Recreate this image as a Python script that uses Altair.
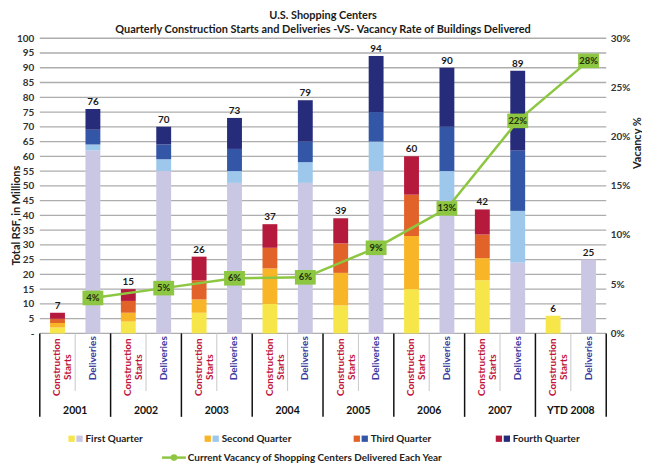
import altair as alt
import pandas as pd

# ---------------- data ----------------
years = ["2001", "2002", "2003", "2004", "2005", "2006", "2007", "YTD 2008"]
starts_q1 = [2, 4, 7, 10, 9.5, 15, 18, 6]
starts_q2 = [1.5, 3, 4.5, 12, 11, 18, 7.5, 0]
starts_q3 = [1.5, 4, 6.5, 7, 10, 14, 8, 0]
starts_q4 = [2, 4, 8, 8, 8.5, 13, 8.5, 0]
deliv_q1 = [62, 55, 51, 51, 55, 45, 24, 25]
deliv_q2 = [2, 4, 4, 7, 10, 10, 17.5, 0]
deliv_q3 = [5, 5, 7.5, 7, 10, 15, 20.5, 0]
deliv_q4 = [7, 6, 10.5, 14, 19, 20, 27, 0]
vacancy = [0.036, 0.046, 0.056, 0.057, 0.087, 0.127, 0.216, 0.277]
quarter_names = ["First Quarter", "Second Quarter", "Third Quarter", "Fourth Quarter"]
left_ticks = list(range(0, 101, 5))
right_ticks = [0, 0.05, 0.10, 0.15, 0.20, 0.25, 0.30]
starts_label = "Construction\nStarts"
deliv_label = "Deliveries"
line_legend_label = "Current Vacancy of Shopping Centers Delivered Each Year"

# ---------------- styles ----------------
starts_colors = ["#F7E64A", "#F8B527", "#E2632A", "#B5193C"]
deliv_colors = ["#C9C7E3", "#9DC8EB", "#3456A6", "#262B7A"]
green = "#8DC641"
FONT = "Lato"

cat_order = [f"{y}|{t}" for y in years for t in ("S", "D")]
starts_q = [starts_q1, starts_q2, starts_q3, starts_q4]
deliv_q = [deliv_q1, deliv_q2, deliv_q3, deliv_q4]

rows = []
for i, y in enumerate(years):
    for q in range(4):
        rows.append({"cat": f"{y}|S", "q": q + 1, "key": f"S{q+1}", "value": starts_q[q][i]})
        rows.append({"cat": f"{y}|D", "q": q + 1, "key": f"D{q+1}", "value": deliv_q[q][i]})
bars_df = pd.DataFrame(rows)

keys = [f"S{q}" for q in range(1, 5)] + [f"D{q}" for q in range(1, 5)]
color_scale = alt.Scale(domain=keys, range=starts_colors + deliv_colors)

xscale = alt.Scale(type="band", domain=cat_order, paddingInner=0, paddingOuter=0)


def X(bp=None):
    if bp is None:
        return alt.X("cat:N", scale=xscale, axis=None)
    return alt.X("cat:N", scale=xscale, axis=None, bandPosition=bp)


yleft = alt.Scale(domain=[0, 100], nice=False)
yright = alt.Scale(domain=[0, 0.3], nice=False)

left_axis = alt.Axis(
    values=left_ticks,
    labelExpr="datum.value == 0 ? '-' : datum.label",
    labelOverlap=False,
    title="Total RSF, in Millions",
    titleFontSize=11,
    titleFontWeight="bold",
    titleColor="#222222",
    titleX=-23,
    titleY=178,
    titleAngle=270,
    titleBaseline="middle",
    titleAlign="center",
    labelFontWeight="bold",
    labelFontSize=10,
    labelColor="#333333",
    labelPadding=6,
    ticks=False,
    domain=False,
    grid=False,
)

grid_df = pd.DataFrame({"tick": left_ticks})
grid = alt.Chart(grid_df).mark_rule(color="#ADADAD", strokeWidth=1.3).encode(
    y=alt.Y("tick:Q", scale=yleft, axis=left_axis),
    x=alt.value(0),
    x2=alt.value(570),
)

bars = alt.Chart(bars_df).transform_filter("datum.value > 0").mark_bar(
    width=alt.RelativeBandSize(0.42)
).encode(
    x=X(),
    y=alt.Y("value:Q", stack="zero", scale=yleft, axis=left_axis),
    color=alt.Color("key:N", scale=color_scale, legend=None),
    order=alt.Order("q:Q", sort="ascending"),
)

totals = alt.Chart(bars_df).mark_text(
    baseline="bottom", dy=-2, fontSize=10, fontWeight="bold", color="#1a1a1a", font=FONT
).encode(
    x=X(),
    y=alt.Y("sum(value):Q", scale=yleft, axis=left_axis),
    text=alt.Text("sum(value):Q", format=".0f"),
)

# category dividers and labels
grp_df = pd.DataFrame({"cat": [f"{y}|S" for y in years]})
end_df = pd.DataFrame({"cat": [f"{years[-1]}|D"]})
inner_df = pd.DataFrame({"cat": [f"{y}|D" for y in years], "year": years})
s_lab_df = pd.DataFrame({"cat": [f"{y}|S" for y in years], "label": [starts_label] * len(years)})
d_lab_df = pd.DataFrame({"cat": [f"{y}|D" for y in years], "label": [deliv_label] * len(years)})

div_group = alt.Chart(grp_df).mark_rule(color="#111111", strokeWidth=1.5).encode(
    x=X(0), y=alt.value(297), y2=alt.value(381)
)
div_end = alt.Chart(end_df).mark_rule(color="#111111", strokeWidth=1.5).encode(
    x=X(1), y=alt.value(297), y2=alt.value(381)
)
div_inner = alt.Chart(inner_df).mark_rule(color="#C8C8C8", strokeWidth=1).encode(
    x=X(0), y=alt.value(297), y2=alt.value(355)
)
starts_text = alt.Chart(s_lab_df).mark_text(
    angle=270, align="center", baseline="middle", lineBreak="\n", lineHeight=11,
    fontSize=10, fontWeight="bold", color="#C0143C", font=FONT
).encode(x=X(), y=alt.value(331), text="label:N")
deliv_text = alt.Chart(d_lab_df).mark_text(
    angle=270, align="center", baseline="middle",
    fontSize=10, fontWeight="bold", color="#3B3B9E", font=FONT
).encode(x=X(), y=alt.value(322), text="label:N")
year_text = alt.Chart(inner_df).mark_text(
    align="center", baseline="middle", fontSize=10.5, fontWeight="bold", color="#111111", font=FONT
).encode(x=X(0), y=alt.value(375), text="year:N")

# legend (drawn manually)
legend_layers = []
legend_x = [32, 169, 319, 462]
for i, name in enumerate(quarter_names):
    one = pd.DataFrame({"label": [name]})
    x0 = legend_x[i]
    legend_layers.append(
        alt.Chart(one).mark_square(size=40, color=starts_colors[i], opacity=1).encode(
            x=alt.value(x0), y=alt.value(403))
    )
    legend_layers.append(
        alt.Chart(one).mark_square(size=40, color=deliv_colors[i], opacity=1).encode(
            x=alt.value(x0 + 8), y=alt.value(403))
    )
    legend_layers.append(
        alt.Chart(one).mark_text(align="left", baseline="middle", fontSize=10, fontWeight="bold",
                                 color="#222222", font=FONT).encode(
            x=alt.value(x0 + 14), y=alt.value(403), text="label:N")
    )
one_line = pd.DataFrame({"label": [line_legend_label]})
legend_layers.append(
    alt.Chart(one_line).mark_rule(color=green, strokeWidth=2.5).encode(
        x=alt.value(123), x2=alt.value(147), y=alt.value(422))
)
legend_layers.append(
    alt.Chart(one_line).mark_point(shape="circle", size=45, filled=True, color=green, opacity=1).encode(
        x=alt.value(135), y=alt.value(422))
)
legend_layers.append(
    alt.Chart(one_line).mark_text(align="left", baseline="middle", fontSize=10, fontWeight="bold",
                                  color="#222222", font=FONT).encode(
        x=alt.value(149), y=alt.value(422), text="label:N")
)

left = alt.layer(grid, bars, totals, div_group, div_end, div_inner, starts_text, deliv_text,
                 year_text, *legend_layers)

# vacancy line (right axis)
vac_df = pd.DataFrame({"cat": [f"{y}|D" for y in years], "vac": vacancy})
right_axis = alt.Axis(
    orient="right",
    values=right_ticks,
    format=".0%",
    labelOverlap=False,
    title="Vacancy %",
    titleFontSize=11,
    titleFontWeight="bold",
    titleColor="#222222",
    titleAngle=270,
    titleX=31,
    titleY=105,
    titleBaseline="middle",
    titleAlign="center",
    labelFontWeight="bold",
    labelFontSize=10,
    labelColor="#333333",
    labelPadding=4,
    ticks=False,
    domain=False,
    grid=False,
)
yv = alt.Y("vac:Q", scale=yright, axis=right_axis)
line = alt.Chart(vac_df).mark_line(color=green, strokeWidth=2.5).encode(x=X(), y=yv)
markers = alt.Chart(vac_df).mark_point(
    shape="M-1,-0.7L1,-0.7L1,0.7L-1,0.7Z", size=440, filled=True, color=green, opacity=1
).encode(x=X(), y=yv)
marker_text = alt.Chart(vac_df).mark_text(
    fontSize=9.5, fontWeight="bold", color="#1F300A", font=FONT, baseline="middle"
).encode(x=X(), y=yv, text=alt.Text("vac:Q", format=".0%"))
right = alt.layer(line, markers, marker_text)

chart = alt.layer(left, right).resolve_scale(y="independent").properties(
    width=570,
    height=297,
    autosize=alt.AutoSizeParams(type="none"),
    padding={"left": 32, "top": 29, "right": 36, "bottom": 130},
    title=alt.TitleParams(
        text=["U.S. Shopping Centers",
              "Quarterly Construction Starts and Deliveries -VS- Vacancy Rate of Buildings Delivered"],
        fontSize=11,
        fontWeight="bold",
        font=FONT,
        color="#1a1a1a",
        anchor="middle",
        offset=-2,
        lineHeight=14,
    ),
).configure(font=FONT).configure_view(stroke="transparent").configure_axis(
    labelFont=FONT, titleFont=FONT
)

chart.save("out.html", embed_options={"renderer": "svg", "actions": False})
